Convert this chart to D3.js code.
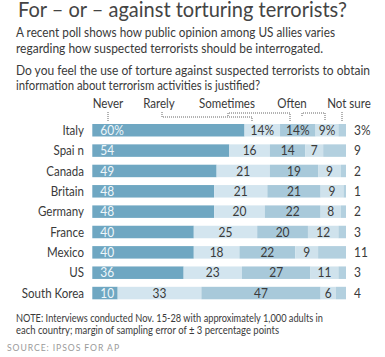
<!DOCTYPE html>
<html><head><meta charset="utf-8">
<script src="https://cdn.jsdelivr.net/npm/d3@7"></script>
<style>
html,body{margin:0;padding:0;background:#fff;}
svg{display:block;}
text{font-family:Lato,"Open Sans",sans-serif;}
</style></head>
<body>
<script>
const countries = ["Italy","Spai n","Canada","Britain","Germany","France","Mexico","US","South Korea"];
const categories = ["Never","Rarely","Sometimes","Often","Not sure"];
const never     = [60,54,49,48,48,40,40,36,10];
const rarely    = [14,16,21,21,20,25,18,23,33];
const sometimes = [14,14,19,21,22,20,22,27,47];
const often     = [9,7,9,9,8,12,9,11,6];
const notSure   = [3,9,2,1,2,3,11,3,4];
const series = [never, rarely, sometimes, often, notSure];
const colors = ["#6fa7c2","#d3e5ef","#a8c9da","#cfe2ec","#b3d0df"];

const W=385,H=357;
const svg=d3.select("body").append("svg").attr("width",W).attr("height",H);
const ink="#3a3a3a";

function fitW(sel,w){ sel.attr("textLength",w).attr("lengthAdjust","spacingAndGlyphs"); }
function squeeze(sel,f){ sel.each(function(){ const n=this.getComputedTextLength(); d3.select(this).attr("textLength",n*f).attr("lengthAdjust","spacingAndGlyphs"); }); }

fitW(svg.append("text").attr("x",18).attr("y",17).attr("font-size",20.5).attr("fill","#444")
  .text("For \u2013 or \u2013 against torturing terrorists?"),329);
const para=[
 ["A recent poll shows how public opinion among US allies varies",37,319],
 ["regarding how suspected terrorists should be interrogated.",53,307],
 ["Do you feel the use of torture against suspected terrorists to obtain",75,354],
 ["information about terrorism activities is justified?",90,244]];
para.forEach(p=>fitW(svg.append("text").attr("x",16).attr("y",p[1]).attr("font-size",13.4).attr("fill",ink).text(p[0]),p[2]));

const x=d3.scaleLinear().domain([0,100]).range([92.3,346]);
const y=d3.scaleBand().domain(countries).range([124,299.3]).paddingInner(0.386).paddingOuter(0);

const rows=countries.map((c,i)=>{
  let acc=0;
  return series.map((s,k)=>{const v=s[i];const seg={c,k,i,v,x0:acc,x1:acc+v};acc+=v;return seg;});
});

const g=svg.append("g");
rows.forEach(r=>{
  g.selectAll(null).data(r).enter().append("rect")
   .attr("x",d=>x(d.x0)).attr("y",d=>y(d.c))
   .attr("width",d=>x(d.x1)-x(d.x0)).attr("height",y.bandwidth())
   .attr("fill",d=>colors[d.k]);
  const t=g.selectAll(null).data(r).enter().append("text")
   .attr("x",d=>d.k===0?x(d.x0)+8:(d.k===4?x(100)+8:(x(d.x0)+x(d.x1))/2))
   .attr("y",d=>y(d.c)+y.bandwidth()/2+4.6)
   .attr("text-anchor",d=>(d.k===0||d.k===4)?"start":"middle")
   .attr("font-size",13).attr("fill",d=>d.k===0?"#eef6fa":ink)
   .text(d=>d.v+(d.i===0?"%":""));
  squeeze(t,0.92);
});

squeeze(svg.selectAll(null).data(countries).enter().append("text")
  .attr("x",84).attr("y",d=>y(d)+y.bandwidth()/2+4.6)
  .attr("text-anchor","end").attr("font-size",13.4).attr("fill",ink).text(d=>d),0.86);

const headerX=[108,159,227,292,349];
squeeze(svg.selectAll(null).data(categories).enter().append("text")
  .attr("x",(d,i)=>headerX[i]).attr("y",108).attr("text-anchor","middle")
  .attr("font-size",13.4).attr("fill",ink).text(d=>d),0.86);

const conn=[
  [[108,112],[108,122]],
  [[162,112],[162,117],[252,117],[252,121]],
  [[228,116],[228,113],[290,113],[290,121]],
  [[302,116],[302,113],[325,113],[325,121]],
  [[342,112],[342,121]]];
const line=d3.line();
svg.selectAll(null).data(conn).enter().append("path").attr("d",line)
  .attr("fill","none").attr("stroke","#666").attr("stroke-width",1).attr("stroke-dasharray","1,1");

fitW(svg.append("text").attr("x",16).attr("y",322).attr("font-size",10.6).attr("fill",ink)
  .text("NOTE: Interviews conducted Nov. 15-28 with approximately 1,000 adults in"),307);
fitW(svg.append("text").attr("x",16).attr("y",334).attr("font-size",10.6).attr("fill",ink)
  .text("each country; margin of sampling error of \u00b1 3 percentage points"),263);
fitW(svg.append("text").attr("x",7).attr("y",351).attr("font-size",9.5).attr("fill","#9a9a9a")
  .attr("letter-spacing",1).text("SOURCE: IPSOS FOR AP"),113);
</script>
</body></html>
